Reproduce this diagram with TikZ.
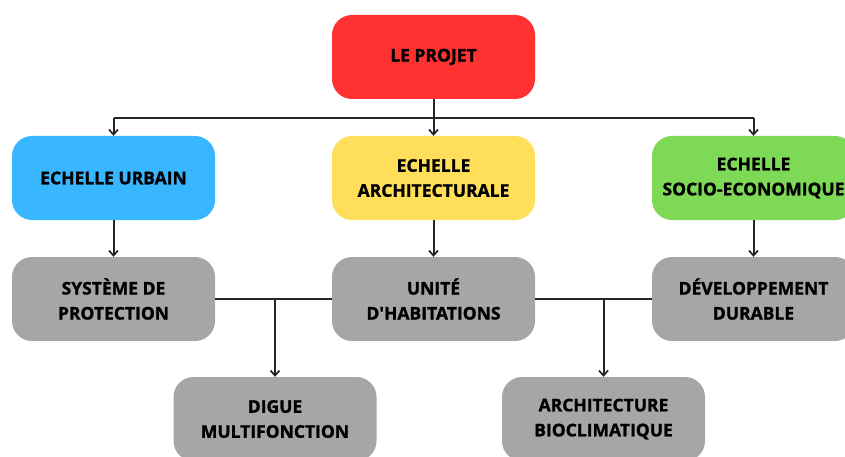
\documentclass[tikz,border=0pt]{standalone}
\usepackage{fontspec}
\setmainfont{Open Sans}[BoldFeatures={FakeBold=1.3}]
\usepackage{tikz}
\usetikzlibrary{arrows.meta}

\definecolor{rouge}{HTML}{FF3131}
\definecolor{bleu}{HTML}{38B6FF}
\definecolor{jaune}{HTML}{FFDE59}
\definecolor{vert}{HTML}{7ED957}
\definecolor{gris}{HTML}{A6A6A6}

\begin{document}
\begin{tikzpicture}[x=1pt,y=-1pt,
	box/.style={rounded corners=20pt,minimum width=203pt,minimum height=84pt,align=center,
		font=\fontsize{17.5}{25}\selectfont\bfseries,text=black},
	link/.style={line width=2pt,draw=black!85},
	arr/.style={link,-{Straight Barb[length=5pt,width=9pt,line width=1.7pt]}}]
		\useasboundingbox (0,0) rectangle (845,457);
		\node[box,fill=rouge] (projet) at (433.5,57) {LE PROJET};
		\node[box,fill=bleu] (urbain) at (113.5,178) {ECHELLE URBAIN};
		\node[box,fill=jaune] (archi) at (433.5,178) {ECHELLE\\ARCHITECTURALE};
		\node[box,fill=vert] (socio) at (753.5,178) {ECHELLE\\SOCIO-ECONOMIQUE};
		\node[box,fill=gris] (protection) at (113.5,299) {SYSTÈME DE\\PROTECTION};
		\node[box,fill=gris] (unite) at (433.5,299) {UNITÉ\\D\textquotesingle HABITATIONS};
		\node[box,fill=gris] (durable) at (753.5,299) {DÉVELOPPEMENT\\DURABLE};
		\node[box,fill=gris] (digue) at (275,419) {DIGUE\\MULTIFONCTION};
		\node[box,fill=gris] (bioclim) at (603.5,419) {ARCHITECTURE\\BIOCLIMATIQUE};
		\coordinate (bus) at (433.5,118);
		\draw[link] (projet) -- (bus);
		\draw[link] (bus -| urbain) -- (bus -| socio);
		\foreach \n in {urbain,archi,socio}{
		\draw[arr] (bus -| \n) -- (\n.north);
		}
		\draw[arr] (urbain) -- (protection);
		\draw[arr] (archi) -- (unite);
		\draw[arr] (socio) -- (durable);
		\draw[link] (protection.east) -- (unite.west);
		\draw[link] (unite.east) -- (durable.west);
		\draw[arr] (protection.east -| digue) -- (digue.north);
		\draw[arr] (unite.east -| bioclim) -- (bioclim.north);
\end{tikzpicture}
\end{document}
